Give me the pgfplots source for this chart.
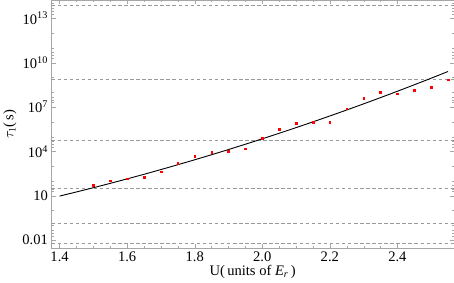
\documentclass[border=0pt]{standalone}
\usepackage{fontspec}
\setmainfont{Liberation Serif}
\usepackage{pgfplots}
\pgfplotsset{compat=1.18}

% measured points
\pgfplotstableread{
x y
1.50 53.7
1.55 105
1.60 145
1.65 182
1.70 417
1.75 1585
1.80 4790
1.85 8710
1.90 1.02e4
1.95 1.48e4
2.00 7.59e4
2.05 3.31e5
2.10 7.76e5
2.15 9.55e5
2.20 9.3e5
2.25 7.59e6
2.30 4.07e7
2.35 1.02e8
2.40 7.94e7
2.45 1.32e8
2.50 2.29e8
2.55 6.92e8
}\points

% fitted curve
\pgfplotstableread{
x y
1.40 9.55
1.45 18.2
1.50 35.1
1.55 69.3
1.60 139
1.65 284
1.70 593
1.75 1256
1.80 2716
1.85 5970
1.90 13370
1.95 30540
2.00 70950
2.05 1.678e5
2.10 4.045e5
2.15 9.93e5
2.20 2.479e6
2.25 6.31e6
2.30 1.637e7
2.35 4.32e7
2.40 1.161e8
2.45 3.18e8
2.50 8.87e8
2.55 2.52e9
}\curve

\begin{document}
\begin{tikzpicture}
\begin{axis}[
scale only axis,
width=399bp,
height=246bp,
ymode=log,
xmin=1.376, xmax=2.567,
ymin=2.85e-3, ymax=1.66e14,
axis line style={gray!70},
tick style={gray!70},
tick align=inside,
major tick length=4bp,
minor tick length=2.2bp,
xtick={1.4,1.6,1.8,2.0,2.2,2.4},
minor x tick num=3,
xticklabel style={/pgf/number format/fixed,/pgf/number format/precision=1,/pgf/number format/fixed zerofill},
ytick={1e-2,10,1e4,1e7,1e10,1e13},
yticklabels={0.01,10,10\textsuperscript{4},10\textsuperscript{7},10\textsuperscript{10},10\textsuperscript{13}},
minor ytick={2e-2,3e-2,5e-2,1e-1,1,20,30,50,100,1000,2e4,3e4,5e4,1e5,1e6,2e7,3e7,5e7,1e8,1e9,2e10,3e10,5e10,1e11,1e12,2e13,3e13,5e13,1e14},
/pgf/number format/assume math mode=true,
tick label style={font=\fontsize{14.5}{16}\selectfont},
label style={font=\fontsize{14.5}{16}\selectfont},
xlabel={U(\,units of \textit{E}\textsubscript{\textit{r}}\,)},
ylabel={$\tau_1$(\,s)},
xlabel style={yshift=3bp},
ylabel style={yshift=-1bp},
clip=true
]
\addplot[gray!80, dash pattern=on 3.5bp off 2.5bp, forget plot] coordinates {(1.376,7.6e13) (2.567,7.6e13)};
\addplot[gray!80, dash pattern=on 3.5bp off 2.5bp, forget plot] coordinates {(1.376,7.76e8) (2.567,7.76e8)};
\addplot[gray!80, dash pattern=on 3.5bp off 2.5bp, forget plot] coordinates {(1.376,5.62e4) (2.567,5.62e4)};
\addplot[gray!80, dash pattern=on 3.5bp off 2.5bp, forget plot] coordinates {(1.376,34.7) (2.567,34.7)};
\addplot[gray!80, dash pattern=on 3.5bp off 2.5bp, forget plot] coordinates {(1.376,0.151) (2.567,0.151)};
\addplot[gray!80, dash pattern=on 3.5bp off 2.5bp, forget plot] coordinates {(1.376,6.3e-3) (2.567,6.3e-3)};
\addplot[black, line width=0.9bp, smooth] table[x=x,y=y] {\curve};
\addplot[only marks, mark=square*, mark size=0.8bp, red, mark options={draw=red}] table[x=x,y=y] {\points};
\end{axis}
\end{tikzpicture}
\end{document}
